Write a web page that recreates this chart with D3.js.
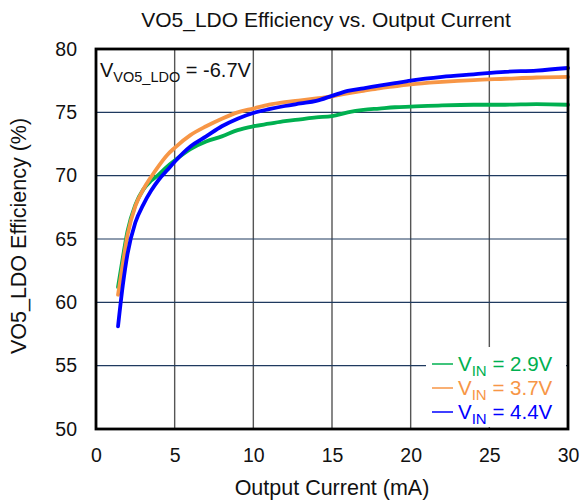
<!DOCTYPE html>
<html>
<head>
<meta charset="utf-8">
<script src="https://cdn.jsdelivr.net/npm/d3@7"></script>
<style>
  body { margin: 0; background: #fff; }
  svg text { font-family: "Liberation Sans", Arial, sans-serif; fill: #111; }
</style>
</head>
<body>
<div id="chart"></div>
<script>
const width = 583
const height = 500
const margin = { left: 96, right: 15, top: 49, bottom: 71 }

// output current (mA)
const current = [1.4, 1.7, 2, 2.5, 3, 3.5, 4, 4.5, 5, 6, 7, 8, 9, 10, 11, 12, 13, 14, 15, 16, 17, 18, 19, 20, 22, 24, 26, 28, 30]
// efficiency (%) per input voltage
const eff29 = [61.2, 63.5, 65.6, 67.7, 68.9, 69.6, 70.1, 70.7, 71.2, 72.1, 72.7, 73.1, 73.6, 73.9, 74.1, 74.3, 74.45, 74.6, 74.7, 75.0, 75.2, 75.3, 75.4, 75.45, 75.55, 75.6, 75.6, 75.65, 75.6]
const eff37 = [60.6, 63.0, 65.3, 67.6, 68.9, 69.9, 70.8, 71.6, 72.2, 73.2, 73.9, 74.5, 75.0, 75.3, 75.6, 75.8, 75.95, 76.1, 76.25, 76.5, 76.7, 76.9, 77.05, 77.2, 77.4, 77.55, 77.65, 77.75, 77.8]
const eff44 = [58.1, 61.3, 63.8, 66.3, 67.7, 68.8, 69.7, 70.4, 71.1, 72.3, 73.1, 73.9, 74.5, 74.95, 75.25, 75.5, 75.7, 75.9, 76.3, 76.7, 76.9, 77.1, 77.3, 77.5, 77.8, 78.0, 78.2, 78.3, 78.5]

const seriesNames = ["2.9V", "3.7V", "4.4V"]
const seriesColors = ["#00b050", "#f79646", "#0000ff"]
const xTicks = [0, 5, 10, 15, 20, 25, 30]
const yTicks = [50, 55, 60, 65, 70, 75, 80]

const series = [eff29, eff37, eff44].map((vals, i) => ({
    name: seriesNames[i],
    color: seriesColors[i],
    points: vals.map((v, j) => ({ x: current[j], y: v }))
}))

const innerW = width - margin.left - margin.right
const innerH = height - margin.top - margin.bottom

const svg = d3.select("#chart").append("svg").attr("width", width).attr("height", height)

const x = d3.scaleLinear().domain([0, 30]).range([0, innerW])
const y = d3.scaleLinear().domain([50, 80]).range([innerH, 0])

svg.append("text")
    .attr("x", 326).attr("y", 27)
    .attr("text-anchor", "middle")
    .attr("font-size", 21)
    .text("VO5_LDO Efficiency vs. Output Current")

const plot = svg.append("g").attr("transform", `translate(${margin.left}, ${margin.top})`)

// grid
plot.append("g").selectAll("line")
    .data(xTicks.slice(1, -1))
    .join("line")
        .attr("x1", d => x(d)).attr("x2", d => x(d))
        .attr("y1", 0).attr("y2", innerH)
        .attr("stroke", "#555").attr("stroke-width", 1.4)
plot.append("g").selectAll("line")
    .data(yTicks.slice(1, -1))
    .join("line")
        .attr("x1", 0).attr("x2", innerW)
        .attr("y1", d => y(d)).attr("y2", d => y(d))
        .attr("stroke", "#1f3a5f").attr("stroke-width", 1.2)

// axes (labels only, no tick marks)
const xAxis = plot.append("g")
    .attr("transform", `translate(0, ${innerH})`)
    .call(d3.axisBottom(x).tickValues(xTicks).tickSize(0).tickPadding(19))
const yAxis = plot.append("g")
    .call(d3.axisLeft(y).tickValues(yTicks).tickSize(0).tickPadding(19))
xAxis.select(".domain").remove()
yAxis.select(".domain").remove()
xAxis.selectAll("text").attr("font-size", 19.5).attr("font-family", "Liberation Sans, Arial, sans-serif").attr("fill", "#111")
yAxis.selectAll("text").attr("font-size", 19.5).attr("font-family", "Liberation Sans, Arial, sans-serif").attr("fill", "#111")

svg.append("text")
    .attr("x", 332).attr("y", 495)
    .attr("text-anchor", "middle")
    .attr("font-size", 21.5)
    .text("Output Current (mA)")
svg.append("text")
    .attr("transform", `translate(26, ${margin.top + innerH / 2 - 3}) rotate(-90)`)
    .attr("text-anchor", "middle")
    .attr("font-size", 21.5)
    .text("VO5_LDO Efficiency (%)")

// curves
const line = d3.line().x(d => x(d.x)).y(d => y(d.y)).curve(d3.curveMonotoneX)
plot.append("g").selectAll("path")
    .data(series)
    .join("path")
        .attr("d", d => line(d.points))
        .attr("fill", "none")
        .attr("stroke", d => d.color)
        .attr("stroke-width", 3.8)
        .attr("stroke-linecap", "round")

// annotation
const ann = plot.append("text").attr("x", 4).attr("y", 28).attr("font-size", 20)
ann.append("tspan").text("V")
ann.append("tspan").attr("font-size", 14.5).attr("dy", 5).text("VO5_LDO")
ann.append("tspan").attr("dy", -5).text(" = -6.7V")

// legend
const legend = plot.append("g").attr("transform", `translate(${innerW - 142}, ${innerH - 82})`)
legend.append("rect")
    .attr("x", 0).attr("y", 0).attr("width", 140).attr("height", 80)
    .attr("fill", "#fff")
const item = legend.selectAll("g")
    .data(series)
    .join("g")
        .attr("transform", (d, i) => `translate(0, ${17 + i * 24})`)
item.append("line")
    .attr("x1", 6).attr("x2", 27).attr("y1", 0).attr("y2", 0)
    .attr("stroke", d => d.color).attr("stroke-width", 1.5)
const lt = item.append("text")
    .attr("x", 32).attr("y", 7).attr("font-size", 20.5)
    .style("fill", d => d.color)
lt.append("tspan").text("V")
lt.append("tspan").attr("font-size", 15).attr("dy", 5).text("IN")
lt.append("tspan").attr("dy", -5).text(d => " = " + d.name)

// frame
plot.append("rect")
    .attr("x", 0).attr("y", 0).attr("width", innerW).attr("height", innerH)
    .attr("fill", "none").attr("stroke", "#000").attr("stroke-width", 2.8)
</script>
</body>
</html>
